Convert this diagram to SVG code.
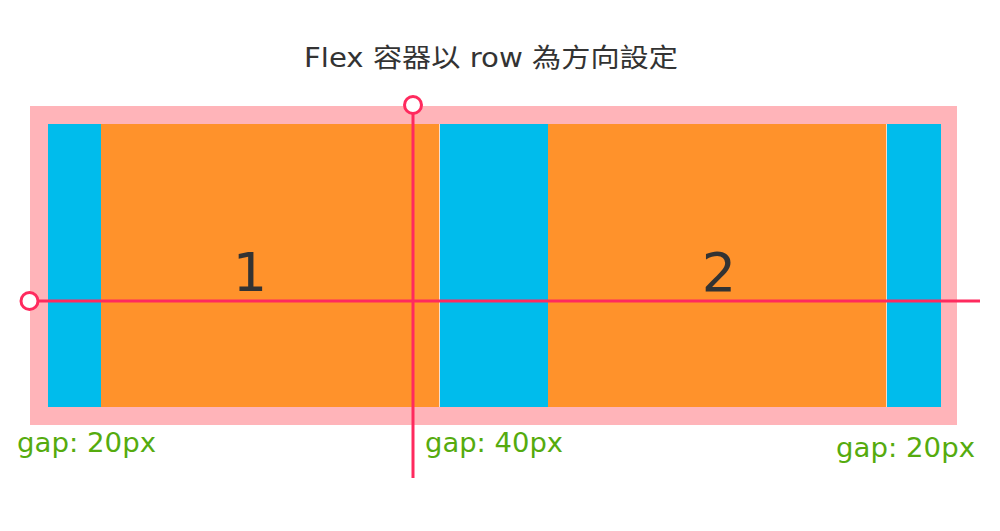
<svg xmlns="http://www.w3.org/2000/svg" width="1000" height="531" viewBox="0 0 1000 531">
<style>
.blue{fill:#00bcec}
.orange{fill:#ff922b}
.sep{stroke:#f6dccb;stroke-width:1}
.num{font-family:"DejaVu Sans","Noto Sans",sans-serif;font-size:54px;fill:#333;text-anchor:middle}
.gap{font-family:"DejaVu Sans","Noto Sans",sans-serif;font-size:26px;fill:#55ab0e}
.title{font-family:"DejaVu Sans","Noto Sans CJK TC",sans-serif;font-size:26px;fill:#333}
.axis{stroke:#ff2a5e;stroke-width:3;fill:none}
.dot{stroke:#ff2a5e;stroke-width:3;fill:#fff}
</style>
<rect width="1000" height="531" fill="#fff"/>
<text id="title" class="title" x="304" y="67" textLength="374" lengthAdjust="spacingAndGlyphs">Flex 容器以 row 為方向設定</text>
<g id="container">
<rect x="30" y="106" width="927" height="319" fill="#ffb4b9"/>
</g>
<g id="gap-left"><rect class="blue" x="48" y="124" width="53" height="283"/></g>
<g id="item1"><rect class="orange" x="101" y="124" width="338.5" height="283"/><text class="num" x="250" y="291">1</text></g>
<g id="gap-mid"><rect class="blue" x="440" y="124" width="108" height="283"/></g>
<g id="item2"><rect class="orange" x="548" y="124" width="338.5" height="283"/><text class="num" x="719" y="291">2</text></g>
<g id="gap-right"><rect class="blue" x="887" y="124" width="54" height="283"/></g>
<line class="sep" x1="439.5" y1="124" x2="439.5" y2="407"/>
<line class="sep" x1="886.5" y1="124" x2="886.5" y2="407"/>
<g id="connectors">
<line class="axis" x1="413" y1="114" x2="413" y2="478"/>
<line class="axis" x1="39" y1="301" x2="980" y2="301"/>
<circle class="dot" cx="413" cy="105" r="8.5"/>
<circle class="dot" cx="29.5" cy="301" r="8.5"/>
</g>
<g id="labels">
<text class="gap" x="17" y="452" textLength="139" lengthAdjust="spacingAndGlyphs">gap: 20px</text>
<text class="gap" x="425" y="452" textLength="138" lengthAdjust="spacingAndGlyphs">gap: 40px</text>
<text class="gap" x="836" y="457" textLength="139" lengthAdjust="spacingAndGlyphs">gap: 20px</text>
</g>
</svg>
